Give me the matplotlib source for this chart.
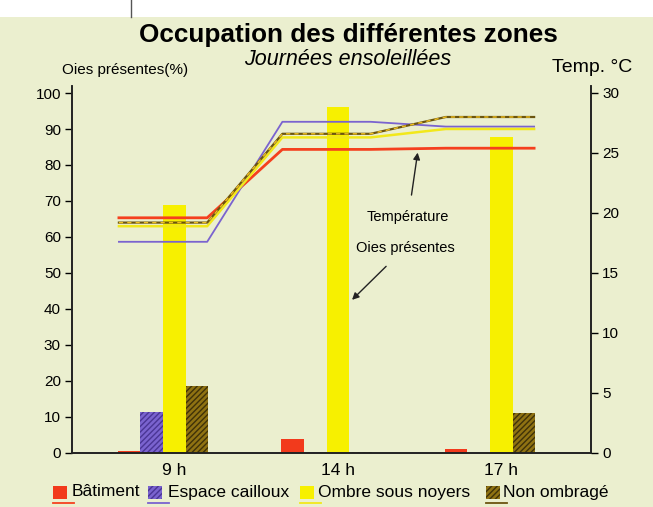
import matplotlib
matplotlib.use('Agg')
import matplotlib.pyplot as plt
import matplotlib.patches as mpatches
from matplotlib.lines import Line2D
import numpy as np

plt.rcParams['font.family'] = ['Liberation Sans', 'DejaVu Sans']
plt.rcParams['hatch.linewidth'] = 1.0

# data
heures = ['9 h', '14 h', '17 h']
zones = ['Bâtiment', 'Espace cailloux', 'Ombre sous noyers', 'Non ombragé']
oies = [[0.6, 3.8, 1.0],      # Bâtiment
        [11.5, 0.3, 0.0],     # Espace cailloux
        [69.0, 96.0, 87.8],   # Ombre sous noyers
        [18.7, 0.2, 11.2]]    # Non ombragé
temp = [[19.6, 25.3, 25.4],
        [17.6, 27.6, 27.2],
        [18.9, 26.3, 27.0],
        [19.2, 26.6, 28.0]]

bar_cols = ['#f23a1c', '#7a63cf', '#f7f000', '#8f7212']
hatch_cols = ['#f23a1c', '#4a3595', '#f7f000', '#3f3208']
hatches = [None, '//////', None, '//////']
line_cols = ['#f5401e', '#7a63cf', '#f2e81a', '#6b5510']
line_w = [2.0, 1.3, 1.8, 1.6]
bg = '#ebefcf'

W, H = 653, 507
fig = plt.figure(figsize=(W / 100, H / 100), dpi=100, facecolor=bg)

# white strip at the top of the scan
fig.add_artist(mpatches.Rectangle((0, 1 - 17 / H), 1, 17 / H, transform=fig.transFigure,
                                  facecolor='white', edgecolor='none'))
fig.add_artist(Line2D([131 / W, 131 / W], [1, 1 - 17 / H], transform=fig.transFigure,
                      color='#555555', lw=1))

ax = fig.add_axes([72 / W, 54 / H, (591 - 72) / W, 367.2 / H])
ax.set_facecolor('none')
ax2 = ax.twinx()

x = np.arange(len(heures))
w = 0.138
for i in range(len(zones)):
    ax.bar(x + (i - 1.5) * w, oies[i], w, color=bar_cols[i], edgecolor=hatch_cols[i],
           hatch=hatches[i], linewidth=0, zorder=2)

# temperature lines: a flat plateau around each hour, joined by ramps
half = 0.27
xs = np.ravel([[c - half, c + half] for c in x])
for i in range(len(zones)):
    ys = np.repeat(temp[i], 2)
    ax2.plot(xs, ys, color=line_cols[i], lw=line_w[i], zorder=3)
    if i == 3:
        ax2.plot(xs, ys, color='#f0c020', lw=1.0, ls=(0, (3, 3)), zorder=4)

ax.set_xlim(-0.557, 2.618)
ax.set_ylim(0, 102)
ax2.set_ylim(0, 30.6)
ax.set_yticks(np.arange(0, 101, 10))
ax2.set_yticks(np.arange(0, 31, 5))
ax.set_xticks(x + 0.5 * w)
ax.set_xticklabels(heures, fontsize=12.5)
ax.tick_params(axis='x', length=0, pad=7)
ax.tick_params(axis='y', labelsize=11, length=5, width=1, direction='out', pad=3)
ax2.tick_params(axis='y', labelsize=11, length=5, width=1, direction='out', pad=3)
for a in (ax, ax2):
    a.spines['top'].set_visible(False)
    for s in ('left', 'right', 'bottom'):
        a.spines[s].set_linewidth(1.2)
        a.spines[s].set_color('#222222')

# annotations
ax.annotate('Température', xy=(1.56, 84.2), xytext=(1.50, 65.5), fontsize=10.5,
            ha='center', va='center',
            arrowprops=dict(arrowstyle='-|>', color='#222222', lw=1, shrinkA=9,
                            mutation_scale=10))
ax.annotate('Oies présentes', xy=(1.144, 42), xytext=(1.48, 57), fontsize=10.5,
            ha='center', va='center',
            arrowprops=dict(arrowstyle='-|>', color='#222222', lw=1, shrinkA=9,
                            mutation_scale=10))

# titles
fig.text(348 / W, 1 - 35 / H, 'Occupation des différentes zones', fontsize=18.8,
         fontweight='bold', ha='center', va='center')
fig.text(348 / W, 1 - 60 / H, 'Journées ensoleillées', fontsize=15.5, style='italic',
         ha='center', va='center')
fig.text(125 / W, 1 - 70 / H, 'Oies présentes(%)', fontsize=11, ha='center', va='center')
fig.text(592 / W, 1 - 68 / H, 'Temp. °C', fontsize=14, ha='center', va='center')

# legend drawn by hand: patch, label and a line sample under each patch
patch_x = [53, 148, 300, 486]
text_x = [72, 168, 318, 503]
for i in range(len(zones)):
    fig.add_artist(mpatches.Rectangle((patch_x[i] / W, 1 - 499 / H), 14 / W, 13 / H,
                                      transform=fig.transFigure, facecolor=bar_cols[i],
                                      edgecolor=hatch_cols[i], hatch=hatches[i], lw=0))
    fig.add_artist(Line2D([patch_x[i] / W, (patch_x[i] + 21) / W], [1 - 503 / H] * 2,
                          transform=fig.transFigure, color=line_cols[i], lw=1.3))
    fig.text(text_x[i] / W, 1 - 492 / H, zones[i], fontsize=12.5, ha='left', va='center')

fig.savefig('out.png', dpi=100, facecolor=bg)
